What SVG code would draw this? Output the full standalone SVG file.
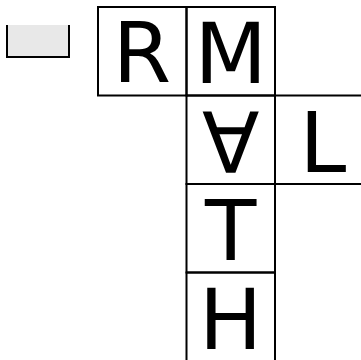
<svg xmlns="http://www.w3.org/2000/svg" width="361" height="360" viewBox="0 0 361 360">
<style>
.cell{fill:none;stroke:#000;stroke-width:2}
.ch{font-family:"DejaVu Sans",sans-serif;font-size:84px;fill:#000;text-anchor:middle}
</style>
<rect x="0" y="0" width="361" height="360" fill="#fff"/>
<g id="tray">
<rect x="7" y="25" width="62" height="32" fill="#e8e8e8"/>
<path d="M7,25 V57 H69 V25" fill="none" stroke="#000" stroke-width="2"/>
</g>
<g id="R"><rect class="cell" x="98" y="7" width="88.5" height="88.5"/><text class="ch" x="142" y="82">R</text></g>
<g id="M"><rect class="cell" x="186.5" y="7" width="88.5" height="88.5"/><text class="ch" x="230.7" y="83">M</text></g>
<g id="A"><rect class="cell" x="186.5" y="95.5" width="88.5" height="88.5"/><text class="ch" x="230.7" y="172.5">∀</text></g>
<g id="L"><rect class="cell" x="275" y="95.5" width="88.5" height="88.5"/><text class="ch" x="323" y="172">L</text></g>
<g id="T"><rect class="cell" x="186.5" y="184" width="88.5" height="88.5"/><text class="ch" x="230.7" y="260">T</text></g>
<g id="H"><rect class="cell" x="186.5" y="272.5" width="88.5" height="88.5"/><text class="ch" x="230.7" y="349">H</text></g>
<g id="connectors"/>
</svg>
